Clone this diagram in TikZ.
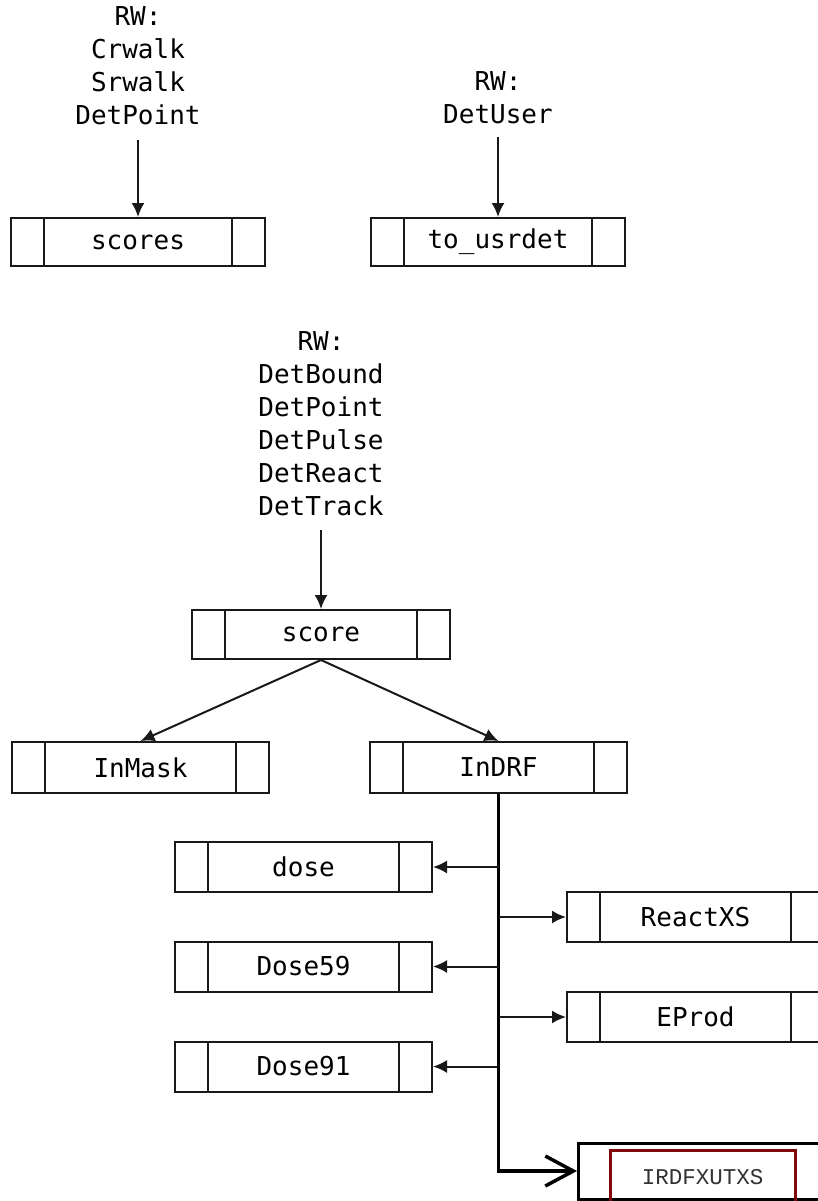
\documentclass[tikz,border=0pt]{standalone}
\usepackage{fontspec}
\setmonofont{DejaVu Sans Mono}
\newfontfamily\courfont{Liberation Mono}
\usetikzlibrary{arrows.meta}
\definecolor{dkred}{RGB}{128,10,10}
\begin{document}
\begin{tikzpicture}[x=1pt,y=-1pt,
  lbl/.style={font=\ttfamily\fontsize{26}{33}\selectfont, align=center, inner sep=0pt, text=black},
  rec/.style={draw=black!90, line width=2pt, minimum width=#1, minimum height=50pt, inner sep=0pt,
    font=\ttfamily\fontsize{26}{33}\selectfont, text=black,
    path picture={\draw[line width=2pt, black!90]
      ([xshift=33pt]path picture bounding box.south west) -- ([xshift=33pt]path picture bounding box.north west)
      ([xshift=-33pt]path picture bounding box.south east) -- ([xshift=-33pt]path picture bounding box.north east);}},
  rec/.default=257pt,
  arr/.style={-{Latex[length=14pt,width=13pt]}, line width=2pt, black!90}
]
\useasboundingbox (0,0) rectangle (817,1201);
\fill[white] (0,0) rectangle (817,1201);

% labels
\node[lbl] (rw1) at (138,66) {RW:\\Crwalk\\Srwalk\\DetPoint};
\node[lbl] (rw2) at (498,98) {RW:\\DetUser};
\node[lbl] (rw3) at (321,424) {RW:\\DetBound\\DetPoint\\DetPulse\\DetReact\\DetTrack};

% boxes
\node[rec=254pt, minimum height=48pt] (scores) at (138,242) {scores};
\node[rec=254pt, minimum height=48pt] (usrdet) at (498,242) {to\_usrdet};
\node[rec=258pt, minimum height=49pt] (score) at (321,634.5) {score};
\node[rec, minimum height=51pt] (inmask) at (140.5,767.5) {InMask};
\node[rec, minimum height=51pt] (indrf) at (498.5,767.5) {InDRF};
\node[rec] (dose) at (303.5,867) {dose};
\node[rec] (dose59) at (303.5,966.5) {Dose59};
\node[rec] (dose91) at (303.5,1066.5) {Dose91};
\node[rec] (reactxs) at (695.5,917) {ReactXS};
\node[rec] (eprod) at (695.5,1017) {EProd};

% IRDFXUTXS box
\node[draw=black, line width=3pt, minimum width=270pt, minimum height=56pt, inner sep=0pt, anchor=west] (irdf) at (577,1171) {};
\node[draw=dkred, line width=3pt, minimum width=185pt, minimum height=54pt, inner sep=0pt,
      font=\courfont\fontsize{22.5}{26}\selectfont, text=black!80, text depth=0pt, yshift=-5pt] (irdfin) at (702.5,1172) {IRDFXUTXS};

% arrows top
\draw[arr] ([yshift=-15pt]scores.north |- rw1.south) -- (scores.north);
\draw[arr] ([yshift=-13pt]usrdet.north |- rw2.south) -- (usrdet.north);
\draw[arr] ([yshift=-14pt]score.north |- rw3.south) -- (score.north);
\draw[arr] (score.south) -- (inmask.north);
\draw[arr] (score.south) -- (indrf.north);

% bus
\coordinate (bend) at (indrf.south |- 0,1045);
\coordinate (bcorner) at (indrf.south |- irdf.west);
\draw[line width=2.6pt, black] (indrf.south) -- (bend);
\draw[arr] (indrf.south |- dose.east) -- (dose.east);
\draw[arr] (indrf.south |- reactxs.west) -- (reactxs.west);
\draw[arr] (indrf.south |- dose59.east) -- (dose59.east);
\draw[arr] (indrf.south |- eprod.west) -- (eprod.west);
\draw[arr] (indrf.south |- dose91.east) -- (dose91.east);

% thick final connector with soft shadow
\draw[line width=3.5pt, black!20, xshift=2pt, yshift=-3pt] (bend) -- (bcorner) -- ([xshift=-4pt]irdf.west);
\draw[line width=3.5pt, black, -{Straight Barb[length=28pt,width=30pt,line width=3.5pt]}] (bend) -- (bcorner) -- (irdf.west);
\end{tikzpicture}
\end{document}
